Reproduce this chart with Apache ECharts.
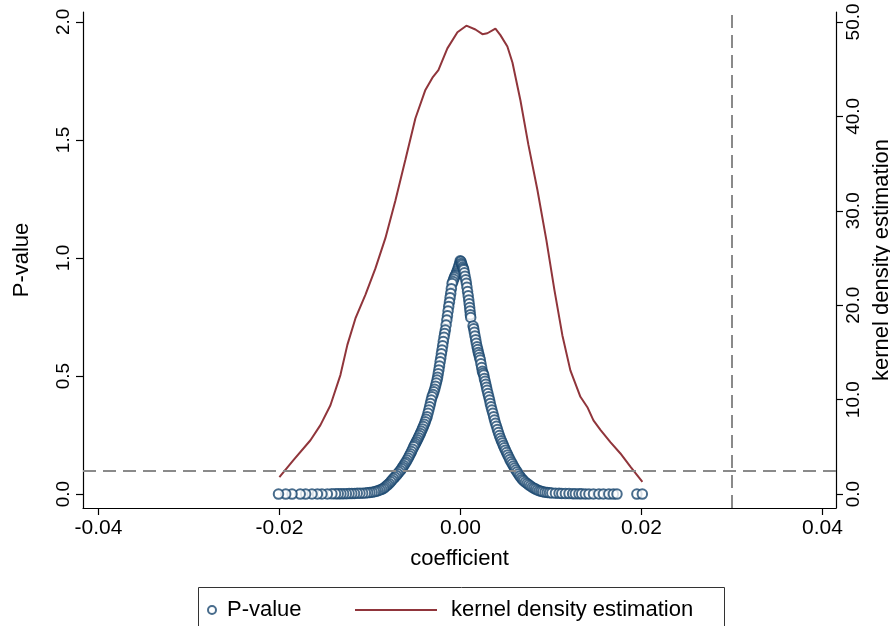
<!DOCTYPE html>
<html>
<head>
<meta charset="utf-8">
<script src="https://cdn.jsdelivr.net/npm/echarts@6/dist/echarts.min.js"></script>
<style>html,body{margin:0;padding:0;background:#fff;}#chart{width:890px;height:626px;}</style>
</head>
<body>
<div id="chart"></div>
<script>
// ---- data ----
const xTicks = [-0.04, -0.02, 0, 0.02, 0.04];
const pTicks = [0, 0.5, 1, 1.5, 2];
const kdeTicks = [0, 10, 20, 30, 40, 50];
const pThreshold = 0.1;
const coefMarker = 0.0294;

const leftCoef = [-0.00002,-0.00010,-0.00018,-0.00026,-0.00034,-0.00042,-0.00050,-0.00058,-0.00066,-0.00074,-0.00083,-0.00092,-0.00100,-0.00107,-0.00114,-0.00121,-0.00129,-0.00136,-0.00143,-0.00150,-0.00158,-0.00166,-0.00174,-0.00181,-0.00189,-0.00196,-0.00203,-0.00210,-0.00217,-0.00224,-0.00231,-0.00238,-0.00245,-0.00252,-0.00258,-0.00266,-0.00275,-0.00284,-0.00293,-0.00303,-0.00313,-0.00322,-0.00331,-0.00340,-0.00349,-0.00358,-0.00368,-0.00378,-0.00388,-0.00398,-0.00409,-0.00420,-0.00431,-0.00442,-0.00453,-0.00464,-0.00475,-0.00486,-0.00497,-0.00506,-0.00516,-0.00528,-0.00540,-0.00552,-0.00564,-0.00576,-0.00589,-0.00601,-0.00613,-0.00626,-0.00638,-0.00650,-0.00663,-0.00678,-0.00693,-0.00708,-0.00724,-0.00740,-0.00755,-0.00770,-0.00787,-0.00803,-0.00819,-0.00835,-0.00850,-0.00870,-0.00890,-0.00910,-0.00930,-0.00950,-0.00975,-0.01000,-0.01025,-0.01050,-0.01080,-0.01110,-0.01140,-0.01170,-0.01200,-0.01230,-0.01260,-0.01290,-0.01320,-0.01350,-0.01380,-0.01420,-0.01470,-0.01530,-0.01580,-0.01640,-0.01710,-0.01770,-0.01860,-0.01930,-0.02010];
const leftP = [0.988,0.975,0.965,0.955,0.946,0.938,0.930,0.925,0.918,0.910,0.900,0.892,0.870,0.850,0.832,0.813,0.795,0.775,0.755,0.737,0.716,0.695,0.680,0.664,0.646,0.628,0.610,0.594,0.576,0.560,0.542,0.526,0.510,0.495,0.483,0.470,0.457,0.444,0.433,0.422,0.412,0.398,0.384,0.370,0.356,0.342,0.328,0.317,0.306,0.296,0.286,0.276,0.266,0.257,0.248,0.239,0.230,0.222,0.214,0.207,0.200,0.190,0.180,0.171,0.162,0.153,0.144,0.136,0.129,0.121,0.114,0.107,0.100,0.093,0.086,0.079,0.072,0.066,0.059,0.052,0.045,0.039,0.034,0.029,0.024,0.020,0.017,0.014,0.012,0.010,0.008,0.007,0.006,0.005,0.004,0.0035,0.003,0.0025,0.002,0.002,0.0015,0.0015,0.001,0.001,0.001,0.001,0.0005,0.0005,0.0005,0.0005,0,0,0,0,0];

const rightCoef = [0.00006,0.00012,0.00018,0.00025,0.00031,0.00037,0.00044,0.00051,0.00059,0.00066,0.00072,0.00079,0.00086,0.00092,0.00097,0.00102,0.00106,0.00110,0.00114,0.00140,0.00147,0.00154,0.00161,0.00169,0.00176,0.00184,0.00191,0.00198,0.00205,0.00212,0.00220,0.00227,0.00235,0.00243,0.00250,0.00258,0.00265,0.00273,0.00280,0.00288,0.00295,0.00304,0.00313,0.00322,0.00330,0.00339,0.00348,0.00358,0.00368,0.00377,0.00387,0.00398,0.00409,0.00420,0.00431,0.00442,0.00453,0.00464,0.00475,0.00486,0.00497,0.00510,0.00522,0.00535,0.00547,0.00560,0.00573,0.00586,0.00599,0.00612,0.00626,0.00640,0.00655,0.00670,0.00685,0.00700,0.00718,0.00737,0.00755,0.00774,0.00793,0.00812,0.00831,0.00850,0.00870,0.00890,0.00910,0.00935,0.00960,0.00985,0.01010,0.01050,0.01090,0.01120,0.01160,0.01200,0.01240,0.01270,0.01310,0.01340,0.01380,0.01420,0.01470,0.01530,0.01580,0.01640,0.01690,0.01730,0.01950,0.02010];
const rightP = [0.985,0.977,0.970,0.962,0.956,0.950,0.937,0.923,0.908,0.893,0.876,0.858,0.840,0.822,0.806,0.790,0.775,0.760,0.748,0.712,0.700,0.685,0.670,0.654,0.639,0.624,0.612,0.600,0.590,0.579,0.568,0.552,0.536,0.520,0.512,0.504,0.490,0.478,0.465,0.452,0.440,0.426,0.412,0.398,0.384,0.370,0.356,0.342,0.328,0.314,0.300,0.287,0.274,0.261,0.248,0.236,0.226,0.216,0.206,0.196,0.186,0.176,0.166,0.156,0.146,0.137,0.128,0.119,0.110,0.102,0.094,0.085,0.077,0.069,0.062,0.056,0.050,0.045,0.039,0.034,0.029,0.025,0.021,0.017,0.014,0.012,0.010,0.008,0.007,0.006,0.005,0.004,0.003,0.0025,0.002,0.002,0.0015,0.001,0.001,0.001,0.0005,0.0005,0.0005,0.0005,0.0005,0,0,0,0,0];

const kdeCoef = [-0.02000,-0.01845,-0.01657,-0.01547,-0.01436,-0.01326,-0.01249,-0.01160,-0.01050,-0.00939,-0.00829,-0.00718,-0.00608,-0.00497,-0.00387,-0.00309,-0.00243,-0.00144,-0.00033,0.00066,0.00166,0.00243,0.00298,0.00387,0.00442,0.00519,0.00575,0.00663,0.00751,0.00851,0.00950,0.01039,0.01127,0.01215,0.01326,0.01403,0.01470,0.01547,0.01657,0.01768,0.01878,0.02011];
const kdeDensity = [1.8,3.6,5.7,7.3,9.4,12.6,15.8,18.6,21.1,23.9,27.1,31.1,35.4,39.8,42.8,44.1,44.9,47.2,48.9,49.6,49.2,48.7,48.8,49.3,48.6,47.4,45.7,41.7,37.0,32.2,26.9,21.6,16.8,13.1,10.3,9.2,7.8,6.8,5.5,4.3,2.9,1.3];

// ---- build ----
const pPoints = leftCoef.map((c, i) => [c, leftP[i]]).concat(rightCoef.map((c, i) => [c, rightP[i]]));
const kdePoints = kdeCoef.map((c, i) => [c, kdeDensity[i]]);

const FONT = 'Liberation Sans, Arial, sans-serif';
const chart = echarts.init(document.getElementById('chart'), null, {renderer: 'canvas'});
chart.setOption({
  backgroundColor: '#fff',
  animation: false,
  grid: {left: 83, right: 54, top: 12, bottom: 118, containLabel: false, outerBoundsMode: 'none'},
  xAxis: {
    type: 'value', min: -0.0417, max: 0.0415,
    name: 'coefficient', nameLocation: 'middle', nameGap: 40,
    nameTextStyle: {fontFamily: FONT, fontSize: 22, color: '#000'},
    axisLine: {onZero: false, lineStyle: {color: '#000', width: 1.2}},
    axisTick: {length: 7, lineStyle: {color: '#000', width: 1.2}, customValues: xTicks},
    axisLabel: {customValues: xTicks, fontFamily: FONT, fontSize: 21, color: '#000', margin: 10,
      formatter: v => v.toFixed(2)},
    splitLine: {show: false}
  },
  yAxis: [{
    type: 'value', min: -0.059, max: 2.042, position: 'left',
    name: 'P-value', nameLocation: 'middle', nameGap: 50,
    nameTextStyle: {fontFamily: FONT, fontSize: 22, color: '#000'},
    axisLine: {show: true, onZero: false, lineStyle: {color: '#000', width: 1.2}},
    axisTick: {show: true, length: 7, lineStyle: {color: '#000', width: 1.2}, customValues: pTicks},
    axisLabel: {customValues: pTicks, rotate: 90, fontFamily: FONT, fontSize: 19, color: '#000', margin: 10,
      formatter: v => v.toFixed(1)},
    splitLine: {show: false}
  }, {
    type: 'value', min: -1.475, max: 51.05, position: 'right',
    name: 'kernel density estimation', nameLocation: 'middle', nameGap: 27,
    nameTextStyle: {fontFamily: FONT, fontSize: 22, color: '#000'},
    axisLine: {show: true, onZero: false, lineStyle: {color: '#000', width: 1.2}},
    axisTick: {show: true, length: 7, lineStyle: {color: '#000', width: 1.2}, customValues: kdeTicks},
    axisLabel: {customValues: kdeTicks, rotate: 90, fontFamily: FONT, fontSize: 19, color: '#000', margin: 8,
      formatter: v => v.toFixed(1)},
    splitLine: {show: false}
  }],
  legend: [{
    data: ['P-value'], left: 202, top: 594, orient: 'horizontal',
    itemWidth: 20, itemHeight: 8, icon: 'emptyCircle',
    itemStyle: {borderWidth: 2},
    textStyle: {fontFamily: FONT, fontSize: 22, color: '#000'}
  }, {
    data: [{name: 'kernel density estimation', icon: 'rect'}], left: 350, top: 594,
    itemWidth: 82, itemHeight: 2,
    textStyle: {fontFamily: FONT, fontSize: 22, color: '#000', padding: [0, 0, 0, 9]}
  }],
  graphic: [{
    type: 'rect', left: 196, top: 585, silent: true,
    shape: {width: 526, height: 60},
    style: {fill: 'none', stroke: '#333', lineWidth: 1}
  }],
  series: [{
    name: 'refLines', type: 'line', data: [], z: 1, silent: true,
    markLine: {
      silent: true, symbol: 'none', animation: false,
      label: {show: false},
      lineStyle: {color: '#8a8a8a', width: 2, type: [13, 7]},
      data: [{yAxis: pThreshold}, {xAxis: coefMarker}]
    }
  }, {
    name: 'P-value', type: 'scatter', data: pPoints, z: 3,
    symbol: 'emptyCircle', symbolSize: 9.5,
    itemStyle: {color: '#1a476f', borderColor: '#1a476f', borderWidth: 2.7}
  }, {
    name: 'kernel density estimation', type: 'line', yAxisIndex: 1, data: kdePoints, z: 4,
    showSymbol: false, symbol: 'none', smooth: false,
    lineStyle: {color: '#90353b', width: 2},
    itemStyle: {color: '#90353b'}
  }]
});
</script>
</body>
</html>
